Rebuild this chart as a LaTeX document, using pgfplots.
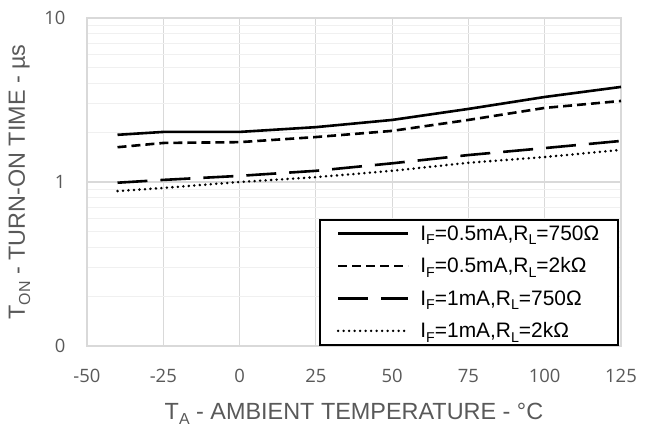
\documentclass[border=0pt]{standalone}
\usepackage{fontspec}
\setmainfont{Liberation Sans}
\newfontfamily\tickfont{Open Sans}
\usepackage{graphicx}
\usepackage{pgfplots}
\pgfplotsset{compat=1.18}
\definecolor{cTXT}{HTML}{595959}
\definecolor{cMAJ}{HTML}{D9D9D9}
\definecolor{cMIN}{HTML}{F0F0F0}
% Excel-style subscript: big, slightly lowered
\newcommand{\sub}[1]{\raisebox{-0.22em}{\scalebox{0.68}{#1}}}
\begin{document}
\begin{tikzpicture}
\useasboundingbox (-87bp,-83bp) rectangle (566bp,346bp);
\begin{axis}[
    at={(0,0)}, anchor=south west,
    scale only axis, width=534bp, height=328bp,
    xmin=-50, xmax=125, xtick={-50,-25,...,125},
    ymode=log, ymin=0.1, ymax=10,
    ytick={0.1,1,10}, yticklabels={0,1,10},
    minor ytick={0.2,0.3,0.4,0.5,0.6,0.7,0.8,0.9,2,3,4,5,6,7,8,9},
    grid=both,
    major grid style={cMAJ, line width=1.1bp},
    minor grid style={cMIN, line width=1.1bp},
    axis line style={cMAJ, line width=1.1bp},
    major tick length=0pt, minor tick length=0pt,
    tick label style={font=\tickfont\fontsize{18.5}{22}\selectfont, text=cTXT},
    /pgf/number format/assume math mode=true,
    xticklabel style={yshift=-20bp},
    yticklabel style={xshift=-18bp},
    label style={font=\fontsize{23.5}{27}\selectfont, text=cTXT},
    xlabel={T\sub{A} - AMBIENT TEMPERATURE - °C},
    ylabel={T\sub{ON} - TURN-ON TIME - µs},
    xlabel style={at={(axis description cs:0.5,-0.2250)}, anchor=base},
    ylabel style={at={(axis description cs:-0.1161,0.5)}, anchor=base},
    legend style={at={(1,0)}, anchor=south east, xshift=-2bp,
        draw=black, line width=1.6bp, fill=white,
        font=\fontsize{21}{25}\selectfont, text=black,
        row sep=12bp, column sep=9bp, inner xsep=17bp, inner ysep=4bp},
    legend cell align=left,
    legend image code/.code={\draw[line width=2.6bp, #1] (0bp,0bp) -- (70bp,0bp);},
    every axis plot/.append style={black, line width=2.6bp},
]
\addplot[solid, line width=2.6bp] coordinates {
  (-40,1.94) (-25,2.02) (0,2.02) (25,2.16) (50,2.39) (75,2.79) (100,3.30) (125,3.80)};
\addlegendentry{I\sub{F}=0.5mA,R\sub{L}=750Ω}
\addplot[line width=2.6bp, dash pattern=on 9bp off 5bp] coordinates {
  (-40,1.63) (-25,1.73) (0,1.75) (25,1.88) (50,2.05) (75,2.39) (100,2.83) (125,3.12)};
\addlegendentry{I\sub{F}=0.5mA,R\sub{L}=2kΩ}
\addplot[line width=2.6bp, dash pattern=on 30bp off 13bp] coordinates {
  (-40,0.99) (-25,1.03) (0,1.09) (25,1.17) (50,1.30) (75,1.46) (100,1.61) (125,1.78)};
\addlegendentry{I\sub{F}=1mA,R\sub{L}=750Ω}
\addplot[line cap=round, line width=2.8bp, dash pattern=on 0bp off 5.5bp] coordinates {
  (-40,0.88) (-25,0.92) (0,1.00) (25,1.07) (50,1.17) (75,1.31) (100,1.42) (125,1.57)};
\addlegendentry{I\sub{F}=1mA,R\sub{L}=2kΩ}
\end{axis}
\end{tikzpicture}
\end{document}
